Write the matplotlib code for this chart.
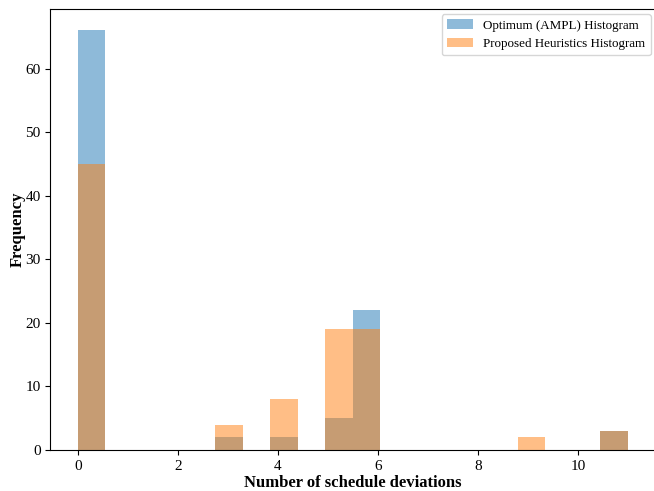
import numpy as np
import matplotlib.pyplot as plt

plt.rcParams['font.family'] = ['Liberation Serif', 'DejaVu Serif']

# schedule deviations per instance and how many instances had them
deviation_values = [0, 3, 4, 5, 6, 9, 11]
optimum_counts = [66, 2, 2, 5, 22, 0, 3]
heuristic_counts = [45, 4, 8, 19, 19, 2, 3]

optimum = np.repeat(deviation_values, optimum_counts)
heuristic = np.repeat(deviation_values, heuristic_counts)

fig = plt.figure(figsize=(6.54, 4.91), dpi=100)
ax = fig.add_axes([0.0772, 0.0835, 0.925, 0.8972])
ax.hist(optimum, bins=20, range=(0, 11), alpha=0.5, label='Optimum (AMPL) Histogram')
ax.hist(heuristic, bins=20, range=(0, 11), alpha=0.5, label='Proposed Heuristics Histogram')

ax.set_xlabel('Number of schedule deviations', fontsize=12, fontweight='bold', labelpad=1.5)
ax.set_ylabel('Frequency', fontsize=12, fontweight='bold', labelpad=0)
ax.tick_params(labelsize=11)
ax.legend(loc='upper right', fontsize=9.4, bbox_to_anchor=(1.003, 1.004))

fig.savefig('out.png', dpi=100)
